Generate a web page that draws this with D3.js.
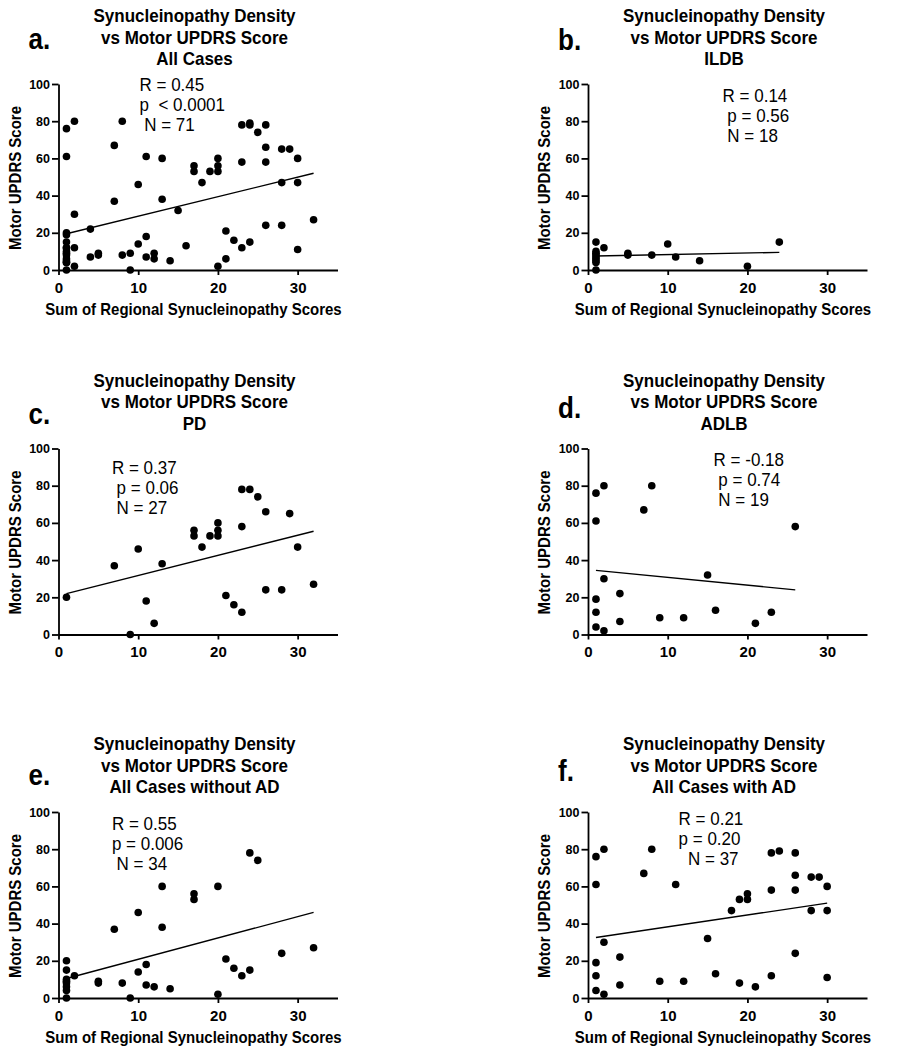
<!DOCTYPE html>
<html>
<head>
<meta charset="utf-8">
<script src="https://cdn.jsdelivr.net/npm/d3@7"></script>
<style>
  html, body { margin: 0; padding: 0; background: #fff; }
  svg text { font-family: "Liberation Sans", Arial, Helvetica, sans-serif; fill: #000; white-space: pre; }
</style>
</head>
<body>
<svg id="chart" width="900" height="1050"></svg>
<script>
// ---------------- DATA ----------------
const titleLines = ["Synucleinopathy Density", "vs Motor UPDRS Score"];
const panelLetters = ["a.", "b.", "c.", "d.", "e.", "f."];
const panelGroups = ["All Cases", "ILDB", "PD", "ADLB", "All Cases without AD", "All Cases with AD"];
const xAxisTitle = "Sum of Regional Synucleinopathy Scores";
const yAxisTitle = "Motor UPDRS Score";
const xTicks = [0, 10, 20, 30];
const yTicks = [0, 20, 40, 60, 80, 100];

// a. All Cases (N = 71)
const allX = [1,1,1,1,1,1,1,1,1,1,1,1,1,1,1, 2,2,2,2, 4,4, 5,5, 7,7, 8,8, 9,9, 10,10, 11,11,11, 12,12, 13,13, 14, 15, 16, 17,17, 18, 19, 20,20,20,20, 21,21, 22, 23,23,23, 24,24,24, 25, 26,26,26,26, 28,28,28, 29, 30,30,30, 32];
const allY = [76,61,20,19,15,12,12,10,9,8,6,5,4,4,0, 80,30,12,2, 22,7, 9,8, 67,37, 80,8, 9,0, 46,14, 61,18,7, 9,6, 60,38, 5, 32, 13, 56,53, 47, 53, 60,56,53,2, 21,6, 16, 78,58,12, 79,78,15, 74, 78,66,58,24, 65,47,24, 65, 60,47,11, 27];

// b. ILDB (N = 18)
const ildbX = [1,1,1,1,1,1,1,1,1, 2, 5,5, 8, 10, 11, 14, 20, 24];
const ildbY = [15,10,9,8,7,6,5,4,0, 12, 9,8, 8, 14, 7, 5, 2, 15];

// c. PD (N = 27)
const pdX = [1,7,9,10,11,12,13,17,17,18,19,20,20,20,21,22,23,23,23,24,25,26,26,28,29,30,32];
const pdY = [20,37,0,46,18,6,38,56,53,47,53,60,56,53,21,16,78,58,12,78,74,66,24,24,65,47,27];

// d. ADLB (N = 19)
const adlbX = [1,1,1,1,1,2,2,2,4,4,7,8,9,12,15,16,21,23,26];
const adlbY = [76,61,19,12,4,80,30,2,22,7,67,80,9,9,32,13,6,12,58];

// e. All cases without AD (N = 34)
const noAdX = [1,1,1,1,1,1,1,1, 2, 5,5, 7, 8, 9, 10,10, 11,11, 12, 13,13, 14, 17,17, 20,20, 21, 22, 23, 24,24, 25, 28, 32];
const noAdY = [20,15,10,9,8,6,4,0, 12, 9,8, 37, 8, 0, 46,14, 18,7, 6, 60,38, 5, 56,53, 60,2, 21, 16, 12, 78,15, 74, 24, 27];

// f. All cases with AD (N = 37)
const adX = [1,1,1,1,1, 2,2,2, 4,4, 7, 8, 9, 11, 12, 15, 16, 18, 19,19, 20,20, 21, 23,23,23, 24, 26,26,26,26, 28,28, 29, 30,30,30];
const adY = [76,61,19,12,4, 80,30,2, 22,7, 67, 80, 9, 61, 9, 32, 13, 47, 53,8, 56,53, 6, 78,58,12, 79, 78,66,58,24, 65,47, 65, 60,47,11];

// statistics text
const statsA = ["R = 0.45", "p  < 0.0001", " N = 71"];
const statsB = ["R = 0.14", " p = 0.56", " N = 18"];
const statsC = ["R = 0.37", " p = 0.06", " N = 27"];
const statsD = ["R = -0.18", " p = 0.74", " N = 19"];
const statsE = ["R = 0.55", "p = 0.006", " N = 34"];
const statsF = ["R = 0.21", "p = 0.20", "  N = 37"];

// regression line end points [x1, y1, x2, y2]
const fitA = [1, 19.5, 32, 52];
const fitB = [1, 7.5, 24, 9.5];
const fitC = [1, 22, 32, 55.5];
const fitD = [1, 34.5, 26, 24];
const fitE = [1, 10.5, 32, 46];
const fitF = [1, 32.5, 30, 51];

// ---------------- LAYOUT ----------------
const colX = [58.5, 588];
const rowY = [270, 634.5, 998];
const plotW = 279, plotH = 186;
const vStretch = 1.1;
const letterDy = [-221, -220, -211, -217, -213, -217];
const statsPos = [[81, -179], [134.6, -167.6], [53.4, -160.7], [125.6, -169], [53.4, -168.3], [90.6, -172.7]];
const hasXTitle = [true, true, false, false, true, true];

const panels = [
  { xs: allX, ys: allY, stats: statsA, fit: fitA },
  { xs: ildbX, ys: ildbY, stats: statsB, fit: fitB },
  { xs: pdX, ys: pdY, stats: statsC, fit: fitC },
  { xs: adlbX, ys: adlbY, stats: statsD, fit: fitD },
  { xs: noAdX, ys: noAdY, stats: statsE, fit: fitE },
  { xs: adX, ys: adY, stats: statsF, fit: fitF }
];

const svg = d3.select("#chart");
svg.append("rect").attr("width", 900).attr("height", 1050).attr("fill", "#fff");

function label(g, x, y, str, size, bold, anchor, rot) {
  return g.append("text")
    .attr("xml:space", "preserve")
    .attr("transform", `translate(${x},${y})` + (rot ? ` rotate(${rot}) scale(1,${vStretch})` : ` scale(1,${vStretch})`))
    .attr("text-anchor", anchor || "start")
    .attr("font-size", size)
    .attr("font-weight", bold ? "bold" : "normal")
    .text(str);
}

panels.forEach((p, i) => {
  const ox = colX[i % 2], oy = rowY[Math.floor(i / 2)];
  const g = svg.append("g").attr("transform", `translate(${ox},${oy - plotH})`);
  const x = d3.scaleLinear().domain([0, 35]).range([0, plotW]);
  const y = d3.scaleLinear().domain([0, 100]).range([plotH, 0]);

  // title
  const tl = [titleLines[0], titleLines[1], panelGroups[i]];
  tl.forEach((t, k) => label(g, 136, plotH - 248 + k * 21.5, t, 17, true, "middle"));
  // panel letter
  label(g, -30, plotH + letterDy[i], panelLetters[i], 26, true);

  // axes
  const xAxis = d3.axisBottom(x).tickValues(xTicks).tickSize(5).tickSizeOuter(0).tickPadding(7.3).tickFormat(d3.format("d"));
  const yAxis = d3.axisLeft(y).tickValues(yTicks).tickSize(6.5).tickSizeOuter(0).tickPadding(2).tickFormat(d3.format("d"));
  const gx = g.append("g").attr("transform", `translate(0,${plotH})`).call(xAxis);
  const gy = g.append("g").call(yAxis);
  [gx, gy].forEach(a => {
    a.select(".domain").attr("stroke", "#000").attr("stroke-width", 1.8);
    a.selectAll(".tick line").attr("stroke", "#000").attr("stroke-width", 1.8);
    a.selectAll("text").attr("font-family", "Liberation Sans, Arial, sans-serif").attr("font-weight", "bold").attr("fill", "#000");
  });
  gx.selectAll("text").attr("font-size", 15);
  gy.selectAll("text").attr("font-size", 12.5);

  // axis titles
  if (hasXTitle[i]) label(g, 135, plotH + 45, xAxisTitle, 15, true, "middle");
  label(g, -38, plotH - 92, yAxisTitle, 15, true, "middle", -90);

  // regression line
  const f = p.fit;
  g.append("line")
    .attr("x1", x(f[0])).attr("y1", y(f[1]))
    .attr("x2", x(f[2])).attr("y2", y(f[3]))
    .attr("stroke", "#000").attr("stroke-width", 1.4);

  // points
  g.append("g").selectAll("circle")
    .data(p.xs.map((v, k) => [v, p.ys[k]]))
    .join("circle")
    .attr("cx", d => x(d[0])).attr("cy", d => y(d[1]))
    .attr("r", 3.8).attr("fill", "#000");

  // stats
  const sp = statsPos[i];
  p.stats.forEach((s, k) => label(g, sp[0], plotH + sp[1] + k * 20, s, 17, false));
});
</script>
</body>
</html>
